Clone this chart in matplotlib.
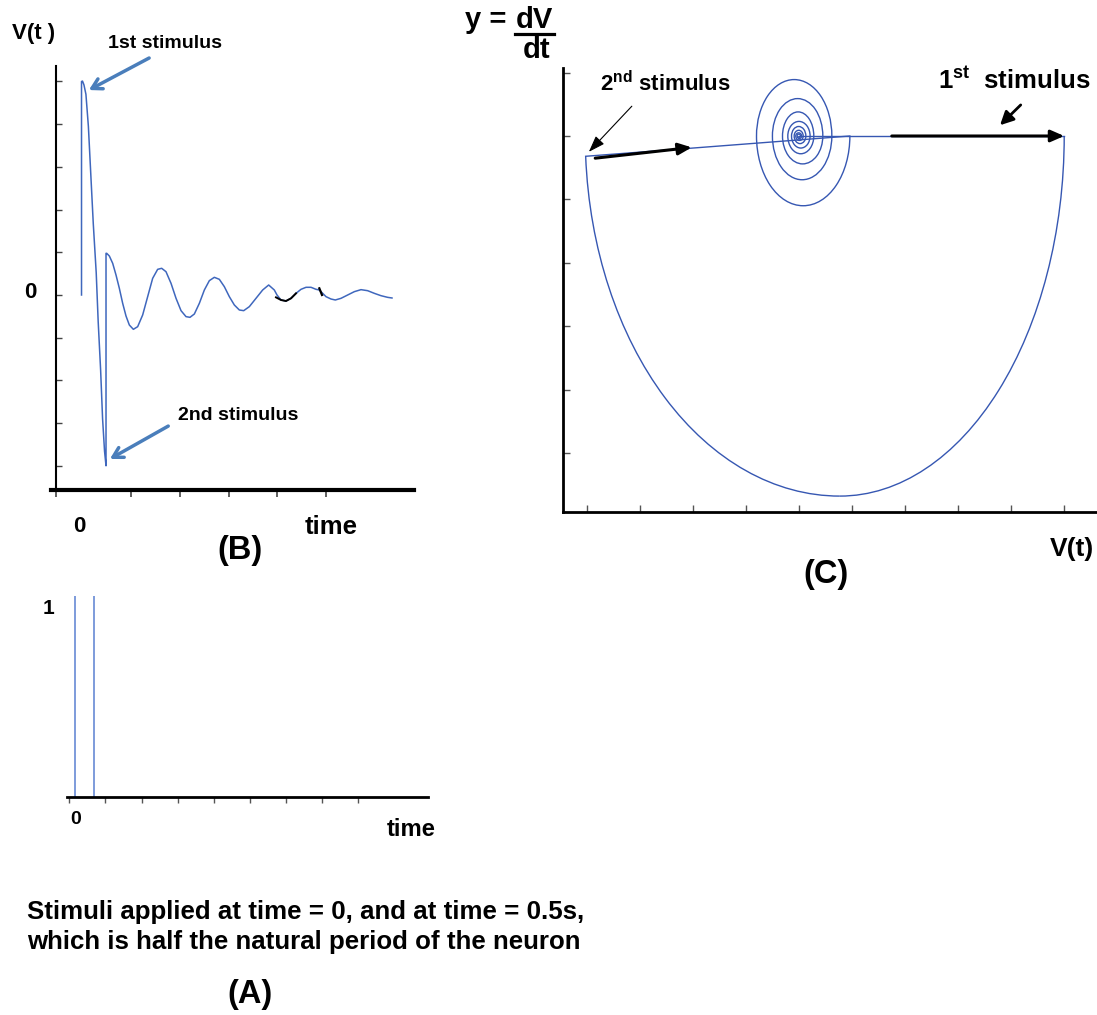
import matplotlib
matplotlib.use('Agg')
import matplotlib.pyplot as plt
from matplotlib.patches import Arc
from matplotlib.lines import Line2D
import numpy as np

# ---------------- data ----------------
# (B) membrane potential V(t) after two stimuli
b_t = [0.000, 0.000, 0.020, 0.050, 0.090, 0.140, 0.190, 0.240, 0.300, 0.340, 0.390, 0.430, 0.470, 0.500,
       0.500, 0.514, 0.568, 0.636, 0.704, 0.772, 0.840, 0.908, 0.976, 1.058, 1.146, 1.248, 1.350,
       1.452, 1.554, 1.636, 1.724, 1.827, 1.929, 2.031, 2.133, 2.214, 2.303, 2.405, 2.507, 2.609,
       2.711, 2.813, 2.915, 3.017, 3.119, 3.221, 3.310, 3.425, 3.561, 3.697, 3.820, 3.935, 3.990,
       4.071, 4.173, 4.276, 4.378, 4.480, 4.582, 4.684, 4.786, 4.854, 4.990, 5.092, 5.180, 5.296,
       5.432, 5.568, 5.704, 5.840, 5.976, 6.112, 6.248, 6.337]
b_v = [0.000, 5.000, 5.010, 4.920, 4.700, 3.950, 2.810, 1.670, 0.520, -0.620, -1.760, -2.900, -3.660, -4.000,
       0.976, 0.976, 0.913, 0.742, 0.468, 0.156, -0.195, -0.492, -0.703, -0.804, -0.742, -0.468, -0.039,
       0.390, 0.601, 0.625, 0.546, 0.273, -0.078, -0.367, -0.507, -0.523, -0.445, -0.195, 0.117, 0.336,
       0.414, 0.367, 0.195, -0.039, -0.234, -0.351, -0.367, -0.273, -0.078, 0.117, 0.234, 0.117, 0.000,
       -0.117, -0.141, -0.078, 0.039, 0.133, 0.180, 0.180, 0.133, 0.117, -0.039, -0.094, -0.117, -0.078,
       0.000, 0.078, 0.125, 0.101, 0.039, -0.016, -0.055, -0.070]
b_black_t = [3.969, 4.071, 4.173, 4.276, 4.378]
b_black_v = [-0.055, -0.117, -0.141, -0.078, 0.039]
b_black2_t = [4.854, 4.908]
b_black2_v = [0.156, 0.000]
b_yticks = [-4, -3, -2, -1, 0, 1, 2, 3, 4, 5]
b_xticks = [1, 2, 3, 4, 5]

# (A) stimuli
a_stim_t = [0.0, 0.5]
a_stim_h = [1.0, 1.0]

# (C) phase plane: V vs dV/dt
c_loop_right_v = 5.00      # V after 1st stimulus
c_loop_bottom_v = 0.77     # V where dV/dt is most negative
c_loop_bottom_dv = -5.68   # most negative dV/dt
c_loop_left_v = -4.02      # V when 2nd stimulus arrives
c_loop_left_dv = -0.32     # dV/dt when 2nd stimulus arrives
c_spiral_turns = [0.96, -0.80, 0.62, -0.50, 0.45, -0.31, 0.28, -0.21, 0.21, -0.14,
                  0.13, -0.09, 0.08, -0.06, 0.05, -0.035, 0.03, -0.02]
c_spiral_peaks = [-1.10, 0.89, -0.69, 0.59, -0.44, 0.38, -0.28, 0.23, -0.19, 0.15,
                  -0.12, 0.09, -0.07, 0.05, -0.04, 0.03, -0.02]
c_stim1_v = [0.0, 5.0]
c_stim1_dv = [0.0, 0.0]
c_stim2_v = [-4.02, 0.96]
c_stim2_dv = [-0.32, 0.0]
c_xticks = list(range(-4, 6))
c_yticks = list(range(-5, 2))

# ---------------- style ----------------
REG = 'Liberation Sans'
plt.rcParams['font.family'] = [REG, 'DejaVu Sans']
plt.rcParams['mathtext.fontset'] = 'custom'
plt.rcParams['mathtext.bf'] = 'Liberation Sans:bold'
plt.rcParams['mathtext.rm'] = 'Liberation Sans:bold'

W, H = 1097, 1015
fig = plt.figure(figsize=(W / 100, H / 100), dpi=100)


def add_ax(l, t, r, b):
    return fig.add_axes([l / W, 1 - b / H, (r - l) / W, (b - t) / H])


def txt(x, y, s, size, ha='left', va='center'):
    fig.text(x / W, 1 - y / H, s, fontsize=size, fontweight='bold', family=[REG, 'DejaVu Sans'],
             ha=ha, va=va, color='black')


B_BLUE = '#3f67bd'
C_BLUE = '#3657b2'
A_BLUE = '#7393d8'
ARW = '#4a7ebb'
TICK = '#444444'

# ---------------- panel B ----------------
axb = add_ax(50.7, 66, 414, 490)
axb.set_xlim(-0.629, 6.786)
axb.set_ylim(-4.567, 5.363)
axb.plot(b_t, b_v, color=B_BLUE, lw=1.1, solid_joinstyle='round')
axb.plot(b_black_t, b_black_v, color='black', lw=1.4)
axb.plot(b_black2_t, b_black2_v, color='black', lw=1.6)
for s in ['top', 'right']:
    axb.spines[s].set_visible(False)
axb.spines['left'].set_position(('data', -0.524))
axb.spines['left'].set_linewidth(1.5)
axb.spines['bottom'].set_linewidth(3)
axb.set_yticks(b_yticks)
axb.set_yticklabels([])
axb.set_xticks([-0.524] + b_xticks)
axb.set_xticklabels([])
axb.tick_params(axis='y', direction='in', length=4, width=1, color=TICK)
axb.tick_params(axis='x', direction='out', length=5, width=1.2, color=TICK)
axb.annotate('', xy=(0.15, 4.80), xytext=(1.38, 5.55),
             arrowprops=dict(arrowstyle='->,head_length=0.7,head_width=0.4', color=ARW, lw=2.5,
                             shrinkA=0, shrinkB=0), annotation_clip=False)
axb.annotate('', xy=(0.58, -3.84), xytext=(1.77, -3.07),
             arrowprops=dict(arrowstyle='->,head_length=0.7,head_width=0.4', color=ARW, lw=2.5,
                             shrinkA=0, shrinkB=0), annotation_clip=False)

txt(12, 33, 'V(t )', 16)
txt(108, 44, '1st stimulus', 14)
txt(178, 415, '2nd stimulus', 14)
txt(30, 292, '0', 16, ha='center')
txt(79, 527, '0', 16, ha='center')
txt(305, 527, 'time', 18.5)
txt(240, 550, '(B)', 23.5, ha='center')

# ---------------- panel A ----------------
axa = add_ax(66.7, 596, 428.3, 796.7)
axa.set_xlim(-0.2105, 9.305)
axa.set_ylim(0, 1)
axa.vlines(a_stim_t, 0, a_stim_h, color=A_BLUE, lw=1.3)
for s in ['top', 'right', 'left']:
    axa.spines[s].set_visible(False)
axa.spines['bottom'].set_linewidth(2)
axa.set_yticks([])
axa.set_xticks(np.arange(9) * 0.95 - 0.14)
axa.set_xticklabels([])
axa.tick_params(axis='x', direction='out', length=4, width=1, color='#555555')

txt(48, 609, '1', 15, ha='center')
txt(75.5, 820, '0', 14, ha='center')
txt(387, 829, 'time', 17.2)
txt(27, 912, 'Stimuli applied at time = 0, and at time = 0.5s,', 18.6)
txt(27, 942, 'which is half the natural period of the neuron', 18.6)
txt(250, 995, '(A)', 23.5, ha='center')

# ---------------- panel C ----------------
axc = add_ax(562.7, 68, 1097, 512)
axc.set_xlim(-4.453, 5.618)
axc.set_ylim(-5.931, 1.0726)

# big excursion after the 1st stimulus: two quarter ellipses about the lowest point
depth = abs(c_loop_bottom_dv)
a_right = c_loop_right_v - c_loop_bottom_v
axc.add_patch(Arc((c_loop_bottom_v, 0), 2 * a_right, 2 * depth, theta1=270, theta2=360,
                  color=C_BLUE, lw=1.0))
dx_left = c_loop_bottom_v - c_loop_left_v
a_left = dx_left / np.sqrt(1 - (c_loop_left_dv / depth) ** 2)
th_left = np.degrees(np.arctan2(c_loop_left_dv, -dx_left)) % 360
axc.add_patch(Arc((c_loop_bottom_v, 0), 2 * a_left, 2 * depth, theta1=th_left, theta2=270,
                  color=C_BLUE, lw=1.0))

axc.plot(c_stim1_v, c_stim1_dv, color=C_BLUE, lw=1.0)
axc.plot(c_stim2_v, c_stim2_dv, color=C_BLUE, lw=1.0)
for i, pk in enumerate(c_spiral_peaks):
    v0, v1 = c_spiral_turns[i], c_spiral_turns[i + 1]
    th1, th2 = (180, 360) if pk < 0 else (0, 180)
    axc.add_patch(Arc(((v0 + v1) / 2, 0), abs(v1 - v0), 2 * abs(pk), theta1=th1, theta2=th2,
                      color=C_BLUE, lw=1.0))
for s in ['top', 'right']:
    axc.spines[s].set_visible(False)
axc.spines['left'].set_linewidth(2)
axc.spines['bottom'].set_linewidth(2)
axc.set_xticks(c_xticks)
axc.set_yticks(c_yticks)
axc.set_xticklabels([])
axc.set_yticklabels([])
axc.tick_params(direction='in', length=5, width=1, color='#555555')

axc.annotate('', xy=(5.0, 0.0), xytext=(1.75, 0.0),
             arrowprops=dict(arrowstyle='-|>,head_length=0.8,head_width=0.35', color='black', lw=2.2,
                             shrinkA=0, shrinkB=0), annotation_clip=False)
axc.annotate('', xy=(-2.02, -0.18), xytext=(-3.84, -0.35),
             arrowprops=dict(arrowstyle='-|>,head_length=0.8,head_width=0.35', color='black', lw=2.2,
                             shrinkA=0, shrinkB=0), annotation_clip=False)
axc.annotate('', xy=(-3.96, -0.25), xytext=(-3.15, 0.47),
             arrowprops=dict(arrowstyle='-|>,head_length=1.0,head_width=0.35', color='black', lw=0.8,
                             shrinkA=0, shrinkB=0), annotation_clip=False)
axc.annotate('', xy=(3.79, 0.17), xytext=(4.18, 0.49),
             arrowprops=dict(arrowstyle='-|>,head_length=0.8,head_width=0.4', color='black', lw=2.0,
                             shrinkA=0, shrinkB=0), annotation_clip=False)

txt(465, 20, 'y = ', 21)
txt(516, 20, 'dV', 21)
txt(523, 50, 'dt', 21)
fig.add_artist(Line2D([515 / W, 554 / W], [1 - 34 / H, 1 - 34 / H], transform=fig.transFigure,
                      color='black', lw=2.3))
txt(600, 84, r'$\mathbf{2^{nd}}$ stimulus', 16)
txt(938, 80, r'$\mathbf{1^{st}}$  stimulus', 18.5)
txt(1050, 549, 'V(t)', 19)
txt(826, 575, '(C)', 23.5, ha='center')

fig.savefig('out.png', dpi=100)
